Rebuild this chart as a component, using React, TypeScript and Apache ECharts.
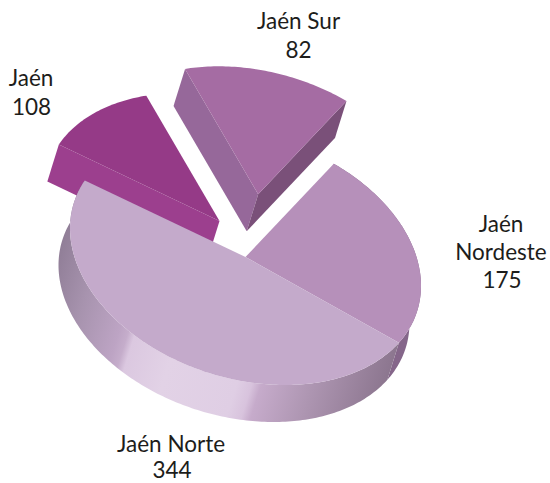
import React, { useEffect, useRef } from "react";
import * as echarts from "echarts";

// Slices clockwise from the top right, as drawn.
const categories = ["Jaén Nordeste", "Jaén Norte", "Jaén", "Jaén Sur"];
const printedValues = [175, 344, 108, 82];
// The picture's wedge sizes: the left wedge is drawn at 82's size and the top wedge at 108's,
// although their printed labels say the reverse.
const wedgeValues = [175, 344, 82, 108];

const labelTexts = ["Jaén", "Nordeste", "175", "Jaén Norte", "344", "Jaén", "108", "Jaén Sur", "82"];
const labelX = [501, 501, 502, 171, 172, 31, 31.5, 298.5, 298.5];
const labelY = [223.5, 251.5, 279.5, 443, 469.3, 77.5, 106.5, 20, 49];

const explodeX = [0, 0, -26, 12.7];
const explodeY = [0, 0, -36, -62.7];
const topColours = ["#B690BA", "#C4AACB", "#953A87", "#A56CA3"];
const wallColours = ["#85668A", "", "#9C3F8E", "#96689A"];
const drawOrder = [2, 3, 0, 1];

const CX = 245.5;
const CY = 257;
const RX = 175.5;
const RY = 128;
const SKEW = 13;
const DX = -11.5;
const DY = 37;
const START = -59.8;

const rad = (d: number) => (d * Math.PI) / 180;
const rimPoint = (t: number, ox: number, oy: number) => [
  CX + ox + RX * Math.cos(rad(t)),
  CY + oy + RY * Math.sin(rad(t + SKEW)),
];
const arc = (a: number, b: number, ox: number, oy: number) => {
  const pts: number[][] = [];
  const n = Math.max(2, Math.ceil(Math.abs(b - a)));
  for (let i = 0; i <= n; i++) pts.push(rimPoint(a + ((b - a) * i) / n, ox, oy));
  return pts;
};
const shift = (p: number[]) => [p[0] + DX, p[1] + DY];

const rimGradient = new echarts.graphic.LinearGradient(
  58, 240, 398, 345.7,
  [
    { offset: 0, color: "#8E7C95" },
    { offset: 0.12, color: "#A793AE" },
    { offset: 0.24, color: "#BDA4C4" },
    { offset: 0.265, color: "#C5ADCB" },
    { offset: 0.285, color: "#DBC8E0" },
    { offset: 0.4, color: "#E2D2E6" },
    { offset: 0.6, color: "#DFCEE4" },
    { offset: 0.64, color: "#D8C3DD" },
    { offset: 0.665, color: "#C6ABCB" },
    { offset: 0.8, color: "#AE96B2" },
    { offset: 1, color: "#8C768F" },
  ],
  true
);

export default function App() {
  const ref = useRef<HTMLDivElement>(null);
  useEffect(() => {
    const chart = echarts.init(ref.current!, undefined, { renderer: "svg" });
    const total = wedgeValues.reduce((s, v) => s + v, 0);
    const starts: number[] = [];
    let acc = START;
    wedgeValues.forEach((v) => {
      starts.push(acc);
      acc += (v / total) * 360;
    });

    const renderItem = (_: any, api: any) => {
      const i = api.value(0) as number;
      const a = starts[i];
      const b = a + ((api.value(1) as number) / total) * 360;
      const ox = explodeX[i];
      const oy = explodeY[i];
      const apex = [CX + ox, CY + oy];
      const top = arc(a, b, ox, oy);
      const first = top[0];
      const last = top[top.length - 1];
      const children: any[] = [];
      const poly = (points: number[][], fill: any) =>
        children.push({ type: "polygon", shape: { points }, style: { fill, stroke: "none" } });

      if (i === 0) {
        poly([...top, ...top.map(shift).reverse()], wallColours[0]);
      } else if (i === 1) {
        poly([...top, ...top.map(shift).reverse()], rimGradient);
      } else if (i === 2) {
        poly([first, apex, shift(apex), shift(first)], wallColours[2]);
      } else {
        poly([first, apex, shift(apex), shift(first)], wallColours[3]);
        poly([apex, last, shift(last), shift(apex)], "#7A5079");
      }
      poly([apex, ...top], topColours[i]);
      return { type: "group", children };
    };

    chart.setOption({
      animation: false,
      backgroundColor: "#ffffff",
      series: [
        {
          type: "custom",
          coordinateSystem: "none",
          silent: true,
          renderItem,
          data: drawOrder.map((i) => ({ name: categories[i], value: [i, wedgeValues[i], printedValues[i]] })),
        },
      ],
      graphic: labelTexts.map((text, i) => ({
        type: "text",
        x: labelX[i],
        y: labelY[i],
        silent: true,
        style: {
          text,
          fill: "#1d1d1b",
          font: '22.5px Lato',
          lineHeight: 17,
          align: "center",
          verticalAlign: "middle",
        },
      })),
    });
    return () => chart.dispose();
  }, []);
  return <div ref={ref} style={{ position: "absolute", left: 0, top: 0, width: 550, height: 483 }} />;
}
